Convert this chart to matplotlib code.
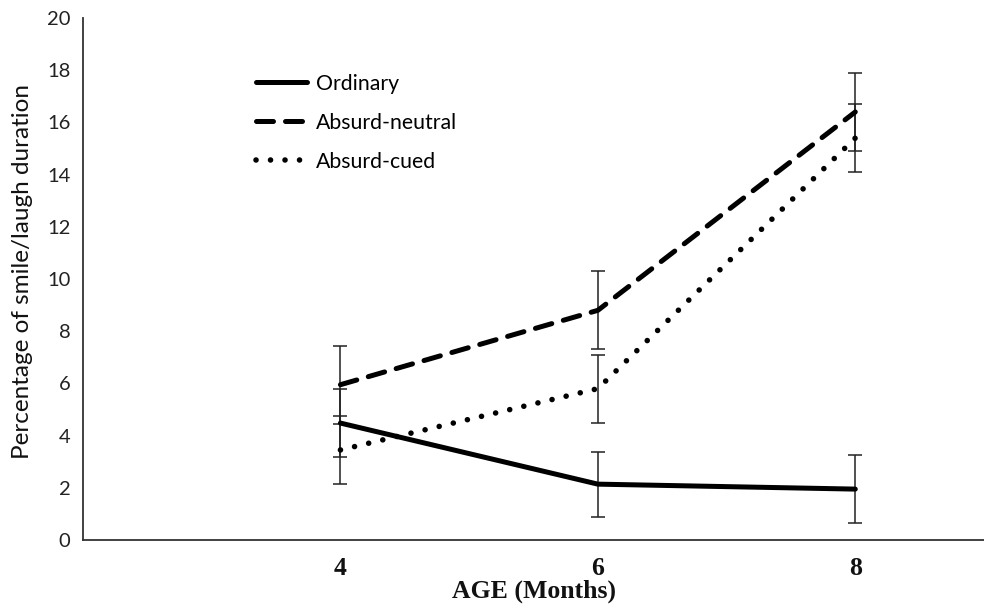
import matplotlib
matplotlib.use("Agg")
import matplotlib.pyplot as plt

ages = [4, 6, 8]
age_labels = ["4", "6", "8"]

ordinary = [4.48, 2.14, 1.95]
ordinary_err = [1.3, 1.25, 1.3]

absurd_neutral = [5.95, 8.8, 16.4]
absurd_neutral_err = [1.5, 1.5, 1.5]

absurd_cued = [3.45, 5.8, 15.4]
absurd_cued_err = [1.3, 1.3, 1.3]

sans = ["Lato", "DejaVu Sans"]
serif = ["Liberation Serif", "DejaVu Serif"]

fig = plt.figure(figsize=(9.84, 6.06), dpi=100)
ax = fig.add_axes([83 / 984, 66 / 606, 901 / 984, 522 / 606])

err_kw = dict(ecolor="#222222", elinewidth=1.1, capsize=5, capthick=1.1, zorder=2)

# error bars first, lines on top
ax.errorbar(ages, ordinary, yerr=ordinary_err, fmt="none", **err_kw)
ax.errorbar(ages, absurd_neutral, yerr=absurd_neutral_err, fmt="none", **err_kw)
ax.errorbar(ages, absurd_cued, yerr=absurd_cued_err, fmt="none", **err_kw)

ax.plot(ages, ordinary, color="black", lw=3.6, solid_capstyle="round",
        label="Ordinary", zorder=3)
ax.plot(ages, absurd_neutral, color="black", lw=3.6, linestyle=(0, (3.4, 2.4)),
        dash_capstyle="round", label="Absurd-neutral", zorder=3)
ax.plot(ages, absurd_cued, color="black", lw=4.0, linestyle=(0, (0.01, 2.6)),
        dash_capstyle="round", label="Absurd-cued", zorder=3)

ax.set_xlim(2, 9)
ax.set_ylim(0, 20)
ax.set_yticks(range(0, 21, 2))
ax.set_xticks(ages)
ax.set_xticklabels(age_labels)

for s in ["top", "right"]:
    ax.spines[s].set_visible(False)
for s in ["left", "bottom"]:
    ax.spines[s].set_color("#333333")
    ax.spines[s].set_linewidth(1.3)

ax.tick_params(axis="y", length=0, pad=9, labelsize=14.5, colors="#222222")
ax.tick_params(axis="x", length=0, pad=12, labelsize=18.5, colors="#111111")
for t in ax.get_yticklabels():
    t.set_family(sans)
for t in ax.get_xticklabels():
    t.set_family(serif)
    t.set_fontweight("bold")

ax.set_ylabel("Percentage of smile/laugh duration", family=sans, fontsize=17.5,
              color="#111111")
ax.yaxis.set_label_coords(-0.056, 0.514)
ax.set_xlabel("AGE (Months)", family=serif, fontweight="bold", fontsize=18.5,
              color="#111111", labelpad=0)

leg = ax.legend(loc="upper left", bbox_to_anchor=(245 / 984, 1 - 63 / 606),
                bbox_transform=fig.transFigure, frameon=False, borderpad=0,
                handlelength=2.4, handletextpad=0.45, labelspacing=0.9,
                prop={"family": sans, "size": 15.3})

fig.savefig("out.png", dpi=100)
